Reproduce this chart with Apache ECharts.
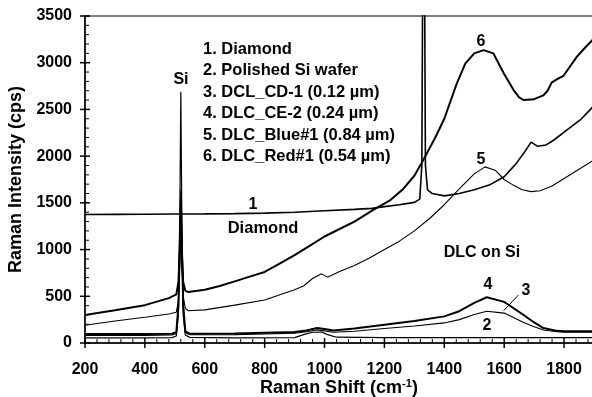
<!DOCTYPE html>
<html><head><meta charset="utf-8">
<script src="https://cdn.jsdelivr.net/npm/echarts@6/dist/echarts.min.js"></script>
<style>html,body{margin:0;padding:0;background:#fff}#c{width:592px;height:397px}</style>
</head><body><div id="c"></div>
<script>
// Curve 1: Diamond
const x1 = [200, 300, 400, 500, 600, 700, 800, 900, 1000, 1100, 1158, 1200, 1250, 1300, 1318, 1325, 1328, 1331, 1334, 1337, 1344, 1360, 1400, 1450, 1500, 1550, 1600, 1640, 1665, 1690, 1712, 1740, 1765, 1810, 1855, 1900];
const y1 = [1375, 1377, 1378, 1380, 1382, 1385, 1390, 1400, 1415, 1430, 1441, 1460, 1480, 1505, 1540, 1900, 4000, 6000, 4000, 1900, 1640, 1600, 1575, 1600, 1640, 1690, 1780, 1920, 2030, 2150, 2105, 2120, 2170, 2280, 2390, 2540];
// Curve 2: Polished Si wafer
const x2 = [200, 400, 490, 505, 512, 517, 520, 523, 528, 535, 550, 700, 900, 930, 960, 990, 1010, 1040, 1200, 1400, 1600, 1800, 1900];
const y2 = [55, 55, 58, 75, 300, 1500, 2690, 1500, 300, 85, 60, 55, 58, 90, 115, 118, 90, 62, 58, 58, 58, 58, 58];
// Curves 3 and 4 share x
const x34 = [200, 400, 490, 505, 512, 517, 520, 523, 528, 535, 550, 700, 900, 940, 975, 1000, 1030, 1100, 1200, 1300, 1400, 1450, 1500, 1542, 1600, 1665, 1700, 1731, 1776, 1800, 1900];
const y3 = [80, 82, 85, 100, 400, 1200, 1640, 1200, 400, 110, 88, 90, 105, 120, 140, 130, 115, 125, 155, 182, 215, 250, 305, 340, 320, 220, 175, 140, 120, 115, 115];
const y4 = [95, 97, 100, 115, 400, 1100, 1550, 1100, 400, 125, 100, 103, 118, 135, 160, 150, 135, 155, 195, 235, 285, 340, 430, 490, 440, 300, 220, 160, 130, 125, 125];
// Curve 5: DLC_Blue#1
const x5 = [200, 300, 400, 480, 505, 512, 517, 520, 523, 528, 535, 545, 600, 700, 800, 900, 930, 960, 990, 1010, 1050, 1100, 1150, 1200, 1250, 1300, 1350, 1400, 1450, 1500, 1536, 1570, 1600, 1630, 1660, 1690, 1720, 1760, 1800, 1850, 1900];
const y5 = [190, 235, 275, 310, 330, 450, 900, 1200, 900, 500, 370, 345, 355, 405, 460, 570, 610, 690, 740, 705, 765, 830, 910, 1000, 1090, 1200, 1330, 1480, 1650, 1810, 1885, 1850, 1750, 1690, 1640, 1620, 1630, 1680, 1760, 1860, 1960];
// Curve 6: DLC_Red#1
const x6 = [200, 300, 400, 480, 505, 512, 517, 520, 523, 528, 535, 545, 600, 650, 700, 750, 800, 850, 900, 950, 1000, 1050, 1100, 1160, 1220, 1260, 1300, 1330, 1370, 1400, 1442, 1470, 1500, 1531, 1564, 1598, 1631, 1650, 1665, 1700, 1731, 1745, 1759, 1780, 1798, 1820, 1843, 1870, 1900];
const y6 = [300, 350, 405, 480, 520, 650, 1000, 1200, 1000, 650, 560, 545, 570, 610, 660, 710, 760, 850, 940, 1040, 1140, 1220, 1300, 1420, 1530, 1640, 1790, 1960, 2200, 2400, 2780, 2990, 3100, 3135, 3100, 2890, 2710, 2630, 2600, 2610, 2650, 2700, 2790, 2830, 2860, 2960, 3065, 3160, 3260];
// Leader line for label "3"
const leader3X = [1598, 1648];
const leader3Y = [345, 515];

// Tick values
const xMajorTicks = [200, 400, 600, 800, 1000, 1200, 1400, 1600, 1800];
const xMinorTicks = [240, 280, 320, 360, 440, 480, 520, 560, 640, 680, 720, 760, 840, 880, 920, 960, 1040, 1080, 1120, 1160, 1240, 1280, 1320, 1360, 1440, 1480, 1520, 1560, 1640, 1680, 1720, 1760, 1840, 1880];
const yMajorTicks = [0, 500, 1000, 1500, 2000, 2500, 3000, 3500];
const yMinorTicks = [100, 200, 300, 400, 600, 700, 800, 900, 1100, 1200, 1300, 1400, 1600, 1700, 1800, 1900, 2100, 2200, 2300, 2400, 2600, 2700, 2800, 2900, 3100, 3200, 3300, 3400];

const legendLines = ['1. Diamond', '2. Polished Si wafer', '3. DCL_CD-1 (0.12 \u00b5m)', '4. DLC_CE-2 (0.24 \u00b5m)', '5. DLC_Blue#1 (0.84 \u00b5m)', '6. DLC_Red#1 (0.54 \u00b5m)'];

const FF = "Liberation Sans, Arial, sans-serif";
const zip = (xs, ys) => xs.map((x, i) => [x, ys[i]]);

const chart = echarts.init(document.getElementById('c'));

function line(name, xs, ys, w) {
  return {
    name, type: 'line', data: zip(xs, ys), showSymbol: false,
    lineStyle: {color: '#000', width: w}, itemStyle: {color: '#000'}
  };
}

const note = (x, y, t, size, align, rich) => ({
  left: x, top: y, padding: 0, text: t, textAlign: align || 'center', textVerticalAlign: 'middle',
  textStyle: Object.assign({fontFamily: FF, fontWeight: 'bold', fontSize: size || 16, color: '#000'}, rich ? {rich} : {})
});

const titles = [];
legendLines.forEach((t, i) => titles.push(note(203, 49 + i * 21.5, t, 16.5, 'left')));
titles.push(note(181, 80, 'Si', 16));
titles.push(note(253, 205, '1', 16));
titles.push(note(263, 228, 'Diamond', 16.5));
titles.push(note(481, 42, '6', 16));
titles.push(note(481, 160, '5', 16));
titles.push(note(482, 253, 'DLC on Si', 16));
titles.push(note(488, 285, '4', 16));
titles.push(note(526, 291, '3', 16));
titles.push(note(487, 326, '2', 16));
titles.push(note(339, 388, 'Raman Shift (cm{sup|-1})', 18, 'center',
  {sup: {fontFamily: FF, fontWeight: 'bold', fontSize: 11, color: '#000', verticalAlign: 'top', padding: [0, 0, 8, 0]}}));

// tick marks drawn through the library's scales (kind: 0 x-major, 1 x-minor, 2 y-major, 3 y-minor)
const tickData = []
  .concat(xMajorTicks.map(v => [v, 0]))
  .concat(xMinorTicks.map(v => [v, 1]))
  .concat(yMajorTicks.map(v => [v, 2]))
  .concat(yMinorTicks.map(v => [v, 3]));

function renderTick(params, api) {
  const v = api.value(0), k = api.value(1);
  let shape;
  if (k < 2) {
    const p = api.coord([v, 0]);
    const up = k === 0 ? 5 : 4, down = k === 0 ? 5 : 0;
    shape = {x1: p[0], y1: p[1] - up, x2: p[0], y2: p[1] + down};
  } else {
    const p = api.coord([200, v]);
    const inner = k === 2 ? 5 : 4, outer = k === 2 ? 5 : 0;
    shape = {x1: p[0] - outer, y1: p[1], x2: p[0] + inner, y2: p[1]};
  }
  return {type: 'line', shape, style: {stroke: '#000', lineWidth: k % 2 === 0 ? 1.5 : 1}, silent: true};
}

const xFmt = v => (v === 1900 ? '' : String(v));
const yFmt = v => String(v);

chart.setOption({
  animation: false,
  title: titles,
  grid: {left: 85, top: 16, right: -2, bottom: 54, show: true, borderColor: '#000', borderWidth: 1, outerBoundsMode: 'none', containLabel: false},
  xAxis: {type: 'value', min: 200, max: 1900, interval: 200, position: 'bottom',
    axisLine: {show: true, onZero: false, lineStyle: {color: '#000', width: 1.5}},
    axisTick: {show: false}, minorTick: {show: false},
    axisLabel: {margin: 19, formatter: xFmt, fontFamily: FF, fontWeight: 'bold', fontSize: 16, color: '#000'},
    splitLine: {show: false}},
  yAxis: {type: 'value', min: 0, max: 3500, interval: 500, position: 'left',
    axisLine: {show: true, onZero: false, lineStyle: {color: '#000', width: 1.5}},
    axisTick: {show: false}, minorTick: {show: false},
    axisLabel: {margin: 13, formatter: yFmt, fontFamily: FF, fontWeight: 'bold', fontSize: 16, color: '#000'},
    name: 'Raman Intensity (cps)', nameLocation: 'middle', nameRotate: 90, nameGap: 53,
    nameTextStyle: {fontFamily: FF, fontWeight: 'bold', fontSize: 18, color: '#000'},
    splitLine: {show: false}},
  series: [
    line('1. Diamond', x1, y1, 1.6),
    line('2. Polished Si wafer', x2, y2, 1.2),
    line('3. DCL_CD-1', x34, y3, 1.1),
    line('4. DLC_CE-2', x34, y4, 2),
    line('5. DLC_Blue#1', x5, y5, 1.1),
    line('6. DLC_Red#1', x6, y6, 2),
    line('leader 3', leader3X, leader3Y, 1),
    {name: 'ticks', type: 'custom', data: tickData, renderItem: renderTick, clip: false, silent: true, z: 5}
  ]
});
</script></body></html>
